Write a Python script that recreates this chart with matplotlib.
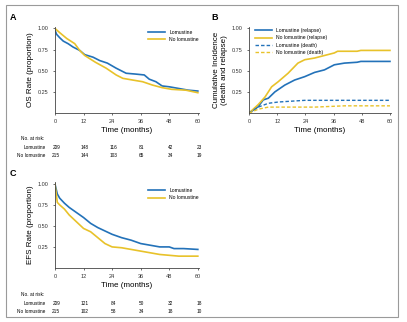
import matplotlib
matplotlib.use("Agg")
import matplotlib.pyplot as plt
from matplotlib.patches import Rectangle

BLUE = "#2372b9"
YELLOW = "#e8c22a"

# ---- panel A: overall survival ----
os_t_lom = [0, 0.7, 2, 3.5, 5.5, 7.6, 10.4, 12.5, 16, 18.8, 22, 25.7, 29.9, 34, 37.5, 39.6, 42.4, 45, 48, 52, 56, 60]
os_lom = [0.98, 0.93, 0.89, 0.85, 0.82, 0.78, 0.74, 0.69, 0.66, 0.62, 0.59, 0.53, 0.47, 0.46, 0.45, 0.40, 0.37, 0.32, 0.31, 0.29, 0.27, 0.26]
os_t_nol = [0, 2, 5, 8.3, 10.4, 12.5, 17, 21.5, 25.7, 28.5, 32.6, 36.8, 41, 45, 49, 55, 60]
os_nol = [1.0, 0.95, 0.88, 0.82, 0.74, 0.68, 0.60, 0.53, 0.45, 0.41, 0.39, 0.37, 0.33, 0.30, 0.28, 0.27, 0.24]

# ---- panel B: cumulative incidence ----
ci_t_rel_nol = [0, 3.9, 6.8, 9.6, 12.4, 16.6, 20.8, 23.7, 27.9, 32.1, 36.3, 37.7, 46, 47.6, 60]
ci_rel_nol = [0.0, 0.10, 0.19, 0.31, 0.37, 0.47, 0.59, 0.63, 0.65, 0.68, 0.71, 0.73, 0.73, 0.74, 0.74]
ci_t_rel_lom = [0, 3.9, 6, 8.2, 11, 15.2, 19.4, 23.7, 27.9, 32.1, 36.3, 40.6, 46, 47.6, 60]
ci_rel_lom = [0.0, 0.075, 0.155, 0.175, 0.25, 0.33, 0.39, 0.43, 0.48, 0.51, 0.57, 0.59, 0.60, 0.61, 0.61]
ci_t_dth_lom = [0, 3.9, 8.2, 12.4, 23.7, 60]
ci_dth_lom = [0.0, 0.07, 0.115, 0.13, 0.15, 0.15]
ci_t_dth_nol = [0, 3.9, 8.2, 28, 40.6, 60]
ci_dth_nol = [0.0, 0.045, 0.07, 0.07, 0.085, 0.085]

# ---- panel C: event-free survival ----
efs_t_lom = [0, 1, 2, 4, 6, 9, 12, 15, 18, 21, 24, 28, 32, 36, 40, 44, 48, 50, 54, 60]
efs_lom = [1.0, 0.88, 0.83, 0.77, 0.72, 0.66, 0.60, 0.53, 0.48, 0.44, 0.40, 0.36, 0.33, 0.29, 0.27, 0.25, 0.25, 0.23, 0.23, 0.22]
efs_t_nol = [0, 1, 2, 4, 6, 9, 12, 15, 18, 21, 24, 28, 32, 36, 40, 44, 48, 52, 60]
efs_nol = [1.0, 0.78, 0.75, 0.70, 0.63, 0.55, 0.47, 0.43, 0.36, 0.29, 0.25, 0.24, 0.22, 0.20, 0.18, 0.16, 0.15, 0.14, 0.14]

xticks = [0, 12, 24, 36, 48, 60]
yticks = [0.25, 0.50, 0.75, 1.00]
risk_os_lom = [209, 148, 116, 81, 42, 23]
risk_os_nol = [215, 144, 103, 65, 34, 19]
risk_efs_lom = [209, 121, 84, 50, 32, 18]
risk_efs_nol = [215, 102, 58, 34, 18, 10]

plt.rcParams["font.family"] = ["Liberation Sans", "DejaVu Sans"]
fig = plt.figure(figsize=(4.07, 3.22), dpi=100)
fig.patches.append(Rectangle((6 / 407, 5 / 322), 392 / 407, 312 / 322, transform=fig.transFigure,
                             fill=False, edgecolor="#9a9a9a", lw=0.8))

axA = fig.add_axes([0.135, 0.649, 0.354, 0.268])
axB = fig.add_axes([0.612, 0.649, 0.349, 0.268])
axC = fig.add_axes([0.135, 0.168, 0.354, 0.266])


def style(ax, ylabel):
    ax.set_xlim(0, 60.5)
    ax.set_ylim(0, 1.02)
    ax.set_xticks(xticks)
    ax.set_yticks(yticks)
    ax.set_yticklabels([f"{v:.2f}" for v in yticks])
    for s in ("top", "right"):
        ax.spines[s].set_visible(False)
    for s in ("left", "bottom"):
        ax.spines[s].set_linewidth(0.6)
        ax.spines[s].set_color("#444444")
    ax.tick_params(labelsize=4, length=1.5, width=0.5, pad=3, colors="#333333")
    ax.set_xlabel("Time (months)", fontsize=5.8, labelpad=2)
    ax.set_ylabel(ylabel, fontsize=5.8, labelpad=3)


def risk_table(ax, lom, nol, y0):
    tr = ax.get_xaxis_transform()
    ax.text(-4.5, y0, "No. at risk:", transform=tr, fontsize=3.4, ha="right", va="center")
    ax.text(-4, y0 - 0.095, "Lomustine", transform=tr, fontsize=3.4, ha="right", va="center")
    ax.text(-4, y0 - 0.19, "No lomustine", transform=tr, fontsize=3.4, ha="right", va="center")
    for x, a, b in zip(xticks, lom, nol):
        ax.text(x + 0.5, y0 - 0.095, str(a), transform=tr, fontsize=3.4, ha="center", va="center")
        ax.text(x + 0.5, y0 - 0.19, str(b), transform=tr, fontsize=3.4, ha="center", va="center")


axA.plot(os_t_lom, os_lom, color=BLUE, lw=1.2, label="Lomustine")
axA.plot(os_t_nol, os_nol, color=YELLOW, lw=1.2, label="No lomustine")
style(axA, "OS Rate (proportion)")
axA.legend(loc="upper right", fontsize=3.6, frameon=False, handlelength=3.5, borderaxespad=0.2,
           bbox_to_anchor=(1.02, 1.0))
risk_table(axA, risk_os_lom, risk_os_nol, -0.30)

axB.plot(ci_t_rel_lom, ci_rel_lom, color=BLUE, lw=1.2, label="Lomustine (relapse)")
axB.plot(ci_t_rel_nol, ci_rel_nol, color=YELLOW, lw=1.2, label="No lomustine (relapse)")
axB.plot(ci_t_dth_lom, ci_dth_lom, color=BLUE, lw=1.0, ls=(0, (2.5, 1.5)), label="Lomustine (death)")
axB.plot(ci_t_dth_nol, ci_dth_nol, color=YELLOW, lw=1.0, ls=(0, (2.5, 1.5)), label="No lomustine (death)")
style(axB, "Cumulative Incidence\n(death and relapse)")
axB.legend(loc="upper left", fontsize=3.6, frameon=False, handlelength=3.5, borderaxespad=0.2,
           bbox_to_anchor=(0.02, 1.02), labelspacing=0.45)

axC.plot(efs_t_lom, efs_lom, color=BLUE, lw=1.2, label="Lomustine")
axC.plot(efs_t_nol, efs_nol, color=YELLOW, lw=1.2, label="No lomustine")
style(axC, "EFS Rate (proportion)")
axC.legend(loc="upper right", fontsize=3.6, frameon=False, handlelength=3.5, borderaxespad=0.2,
           bbox_to_anchor=(1.02, 0.97))
risk_table(axC, risk_efs_lom, risk_efs_nol, -0.315)

fig.text(13 / 407, 1 - 18 / 322, "A", fontsize=6.5, fontweight="bold", ha="center", va="center")
fig.text(215 / 407, 1 - 17 / 322, "B", fontsize=6.5, fontweight="bold", ha="center", va="center")
fig.text(13 / 407, 1 - 173 / 322, "C", fontsize=6.5, fontweight="bold", ha="center", va="center")

fig.savefig("out.png", dpi=100)
